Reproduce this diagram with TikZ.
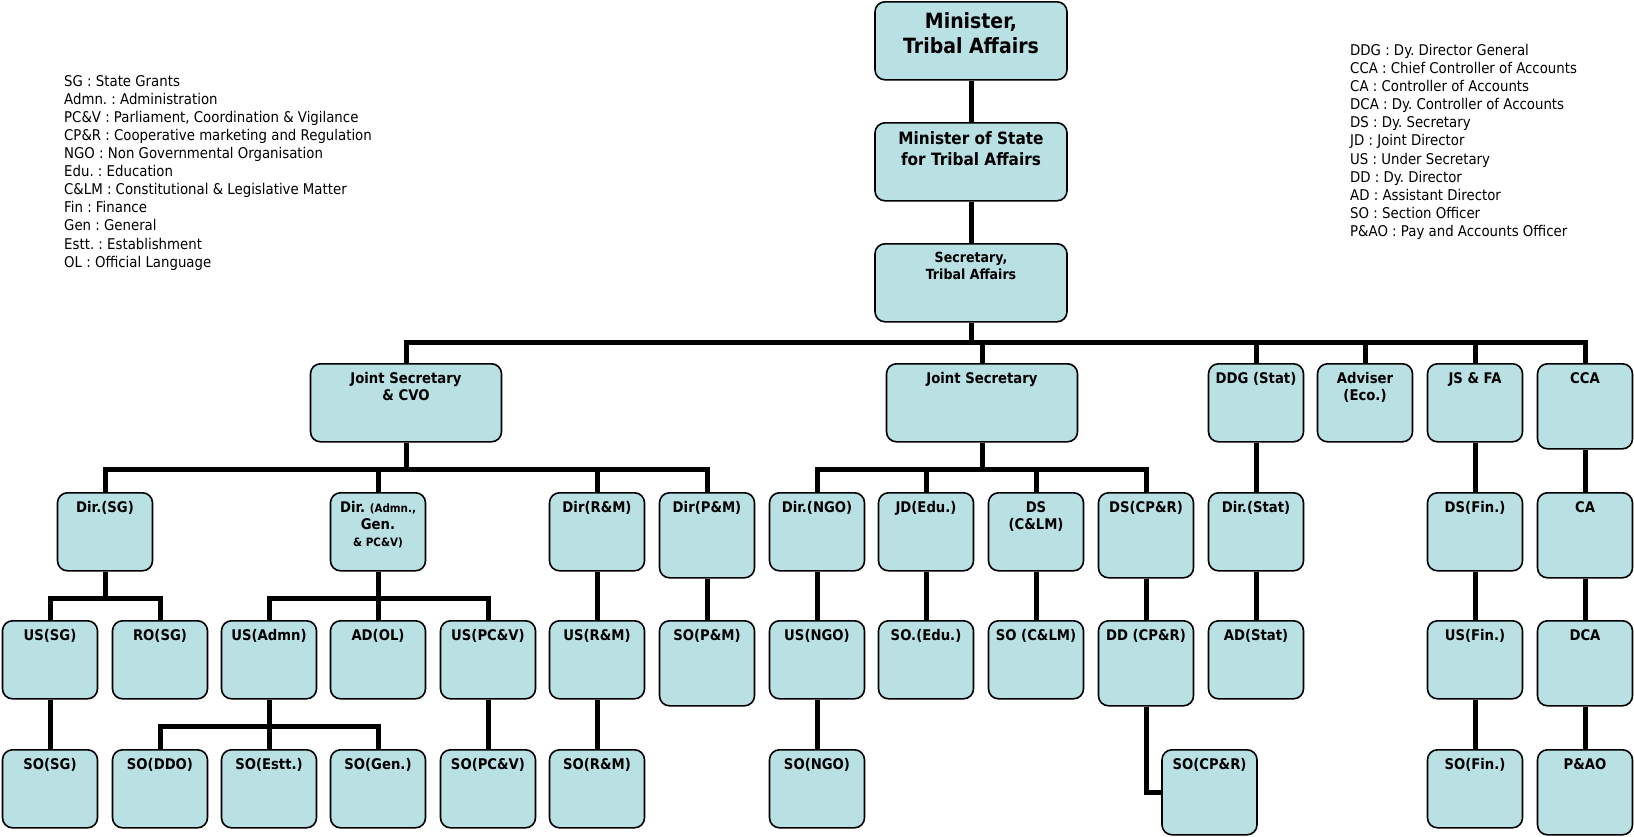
\documentclass[tikz,border=0pt]{standalone}
\usepackage{fontspec}
\setmainfont{DejaVu Sans}[FakeStretch=0.9]
\usepackage{tikz}
\usetikzlibrary{positioning}
\definecolor{boxcolor}{RGB}{185, 224, 227}
\newcommand{\subtxt}{\fontsize{11.5}{14}\selectfont}
\frenchspacing
\tikzset{
    post/.style={rectangle, rounded corners=10pt, draw=black, line width=1.6pt, fill=boxcolor, minimum width=95pt, minimum height=78pt, inner sep=0pt, anchor=north},
    tall post/.style={post, minimum height=85pt},
    wide post/.style={post, minimum width=191pt},
    post title/.style={align=center, inner sep=0pt, font=\bfseries\fontsize{14.7}{17.5}\selectfont},
    link/.style={line width=5pt, black},
    legend/.style={anchor=north west, align=left, inner sep=0pt, font=\fontsize{14.8}{18.1}\selectfont}
}

\begin{document}
\begin{tikzpicture}[x=1pt, y=-1pt]
    \useasboundingbox (0,0) rectangle (1634,836);

    % Abbreviations
    \node[legend] (abbrleft) at (64,75) {SG : State Grants\\ Admn. : Administration\\ PC\&V : Parliament, Coordination \& Vigilance\\ CP\&R : Cooperative marketing and Regulation\\ NGO : Non Governmental Organisation\\ Edu. : Education\\ C\&LM : Constitutional \& Legislative Matter\\ Fin : Finance\\ Gen : General\\ Estt. : Establishment\\ OL : Official Language};
    \node[legend] (abbrright) at (1350,44) {DDG : Dy. Director General\\ CCA : Chief Controller of Accounts\\ CA : Controller of Accounts\\ DCA : Dy. Controller of Accounts\\ DS : Dy. Secretary\\ JD : Joint Director\\ US : Under Secretary\\ DD : Dy. Director\\ AD : Assistant Director\\ SO : Section Officer\\ P\&AO : Pay and Accounts Officer};

    % Minister, MoS, Secretary
    \node[post, minimum width=192pt] (minister) at (971,1) {};
    \node[post title, font=\bfseries\fontsize{21}{25}\selectfont, below=11pt of minister.north] (minister-t) {Minister,\\ Tribal Affairs};
    \node[post, minimum width=192pt] (mos) at (971,122) {};
    \node[post title, font=\bfseries\fontsize{17}{21}\selectfont, below=9pt of mos.north] (mos-t) {Minister of State\\ for Tribal Affairs};
    \node[post, minimum width=192pt] (secy) at (971,243) {};
    \node[post title, font=\bfseries\fontsize{14}{17}\selectfont, below=9pt of secy.north] (secy-t) {Secretary,\\ Tribal Affairs};

    % First level
    \node[wide post] (jscvo) at (406,363) {};
    \node[post title, below=9pt of jscvo.north] (jscvo-t) {Joint Secretary\\ \& CVO};
    \node[wide post] (js) at (982,363) {};
    \node[post title, below=9pt of js.north] (js-t) {Joint Secretary};
    \node[post] (ddg) at (1256,363) {};
    \node[post title, below=9pt of ddg.north] (ddg-t) {DDG (Stat)};
    \node[post] (adviser) at (1365,363) {};
    \node[post title, below=9pt of adviser.north] (adviser-t) {Adviser\\ (Eco.)};
    \node[post] (jsfa) at (1475,363) {};
    \node[post title, below=9pt of jsfa.north] (jsfa-t) {JS \& FA};
    \node[tall post] (cca) at (1585,363) {};
    \node[post title, below=9pt of cca.north] (cca-t) {CCA};

    % Second level
    \node[post] (dirsg) at (105,492) {};
    \node[post title, below=9pt of dirsg.north] (dirsg-t) {Dir.(SG)};
    \node[post] (diradmn) at (378,492) {};
    \node[post title, below=9pt of diradmn.north] (diradmn-t) {Dir. {\subtxt(Admn.,}\\ Gen.\\[-1pt] {\subtxt\& PC\&V)}};
    \node[post] (dirrm) at (597,492) {};
    \node[post title, below=9pt of dirrm.north] (dirrm-t) {Dir(R\&M)};
    \node[tall post] (dirpm) at (707,492) {};
    \node[post title, below=9pt of dirpm.north] (dirpm-t) {Dir(P\&M)};
    \node[post] (dirngo) at (817,492) {};
    \node[post title, below=9pt of dirngo.north] (dirngo-t) {Dir.(NGO)};
    \node[post] (jdedu) at (926,492) {};
    \node[post title, below=9pt of jdedu.north] (jdedu-t) {JD(Edu.)};
    \node[post] (dsclm) at (1036,492) {};
    \node[post title, below=9pt of dsclm.north] (dsclm-t) {DS\\ (C\&LM)};
    \node[tall post] (dscpr) at (1146,492) {};
    \node[post title, below=9pt of dscpr.north] (dscpr-t) {DS(CP\&R)};
    \node[post] (dirstat) at (1256,492) {};
    \node[post title, below=9pt of dirstat.north] (dirstat-t) {Dir.(Stat)};
    \node[post] (dsfin) at (1475,492) {};
    \node[post title, below=9pt of dsfin.north] (dsfin-t) {DS(Fin.)};
    \node[tall post] (ca) at (1585,492) {};
    \node[post title, below=9pt of ca.north] (ca-t) {CA};

    % Third level
    \node[post] (ussg) at (50,620) {};
    \node[post title, below=9pt of ussg.north] (ussg-t) {US(SG)};
    \node[post] (rosg) at (160,620) {};
    \node[post title, below=9pt of rosg.north] (rosg-t) {RO(SG)};
    \node[post] (usadmn) at (269,620) {};
    \node[post title, below=9pt of usadmn.north] (usadmn-t) {US(Admn)};
    \node[post] (adol) at (378,620) {};
    \node[post title, below=9pt of adol.north] (adol-t) {AD(OL)};
    \node[post] (uspcv) at (488,620) {};
    \node[post title, below=9pt of uspcv.north] (uspcv-t) {US(PC\&V)};
    \node[post] (usrm) at (597,620) {};
    \node[post title, below=9pt of usrm.north] (usrm-t) {US(R\&M)};
    \node[tall post] (sopm) at (707,620) {};
    \node[post title, below=9pt of sopm.north] (sopm-t) {SO(P\&M)};
    \node[post] (usngo) at (817,620) {};
    \node[post title, below=9pt of usngo.north] (usngo-t) {US(NGO)};
    \node[post] (soedu) at (926,620) {};
    \node[post title, below=9pt of soedu.north] (soedu-t) {SO.(Edu.)};
    \node[post] (soclm) at (1036,620) {};
    \node[post title, below=9pt of soclm.north] (soclm-t) {SO (C\&LM)};
    \node[tall post] (ddcpr) at (1146,620) {};
    \node[post title, below=9pt of ddcpr.north] (ddcpr-t) {DD (CP\&R)};
    \node[post] (adstat) at (1256,620) {};
    \node[post title, below=9pt of adstat.north] (adstat-t) {AD(Stat)};
    \node[post] (usfin) at (1475,620) {};
    \node[post title, below=9pt of usfin.north] (usfin-t) {US(Fin.)};
    \node[tall post] (dca) at (1585,620) {};
    \node[post title, below=9pt of dca.north] (dca-t) {DCA};

    % Fourth level
    \node[post] (sosg) at (50,749) {};
    \node[post title, below=9pt of sosg.north] (sosg-t) {SO(SG)};
    \node[post] (soddo) at (160,749) {};
    \node[post title, below=9pt of soddo.north] (soddo-t) {SO(DDO)};
    \node[post] (soestt) at (269,749) {};
    \node[post title, below=9pt of soestt.north] (soestt-t) {SO(Estt.)};
    \node[post] (sogen) at (378,749) {};
    \node[post title, below=9pt of sogen.north] (sogen-t) {SO(Gen.)};
    \node[post] (sopcv) at (488,749) {};
    \node[post title, below=9pt of sopcv.north] (sopcv-t) {SO(PC\&V)};
    \node[post] (sorm) at (597,749) {};
    \node[post title, below=9pt of sorm.north] (sorm-t) {SO(R\&M)};
    \node[post] (songo) at (817,749) {};
    \node[post title, below=9pt of songo.north] (songo-t) {SO(NGO)};
    \node[tall post] (socpr) at (1209.5,749) {};
    \node[post title, below=9pt of socpr.north] (socpr-t) {SO(CP\&R)};
    \node[post] (sofin) at (1475,749) {};
    \node[post title, below=9pt of sofin.north] (sofin-t) {SO(Fin.)};
    \node[tall post] (pao) at (1585,749) {};
    \node[post title, below=9pt of pao.north] (pao-t) {P\&AO};

    % Bus points
    \coordinate (mainbus) at (971,342);
    \coordinate (cvobus) at (406,469);
    \coordinate (jsbus) at (982,469);
    \coordinate (sgbus) at (105,598);
    \coordinate (admnbus) at (378,598);
    \coordinate (usadmnbus) at (269,726);

    % Top chain
    \draw[link] (minister.south) -- (mos.north);
    \draw[link] (mos.south) -- (secy.north);
    \draw[link] (secy.south) -- (mainbus);
    \draw[link] (mainbus) -| (jscvo.north);
    \draw[link] (mainbus) -| (js.north);
    \draw[link] (mainbus) -| (ddg.north);
    \draw[link] (mainbus) -| (adviser.north);
    \draw[link] (mainbus) -| (jsfa.north);
    \draw[link] (mainbus) -| (cca.north);

    % Joint Secretary & CVO
    \draw[link] (jscvo.south) -- (cvobus);
    \draw[link] (cvobus) -| (dirsg.north);
    \draw[link] (cvobus) -| (diradmn.north);
    \draw[link] (cvobus) -| (dirrm.north);
    \draw[link] (cvobus) -| (dirpm.north);
    \draw[link] (dirsg.south) -- (sgbus);
    \draw[link] (sgbus) -| (ussg.north);
    \draw[link] (sgbus) -| (rosg.north);
    \draw[link] (ussg.south) -- (sosg.north);
    \draw[link] (diradmn.south) -- (admnbus);
    \draw[link] (admnbus) -| (usadmn.north);
    \draw[link] (admnbus) -- (adol.north);
    \draw[link] (admnbus) -| (uspcv.north);
    \draw[link] (usadmn.south) -- (usadmnbus);
    \draw[link] (usadmnbus) -| (soddo.north);
    \draw[link] (usadmnbus) -- (soestt.north);
    \draw[link] (usadmnbus) -| (sogen.north);
    \draw[link] (uspcv.south) -- (sopcv.north);
    \draw[link] (dirrm.south) -- (usrm.north);
    \draw[link] (usrm.south) -- (sorm.north);
    \draw[link] (dirpm.south) -- (sopm.north);

    % Joint Secretary
    \draw[link] (js.south) -- (jsbus);
    \draw[link] (jsbus) -| (dirngo.north);
    \draw[link] (jsbus) -| (jdedu.north);
    \draw[link] (jsbus) -| (dsclm.north);
    \draw[link] (jsbus) -| (dscpr.north);
    \draw[link] (dirngo.south) -- (usngo.north);
    \draw[link] (usngo.south) -- (songo.north);
    \draw[link] (jdedu.south) -- (soedu.north);
    \draw[link] (dsclm.south) -- (soclm.north);
    \draw[link] (dscpr.south) -- (ddcpr.north);
    \draw[link] (ddcpr.south) |- (socpr.west);

    % Right columns
    \draw[link] (ddg.south) -- (dirstat.north);
    \draw[link] (dirstat.south) -- (adstat.north);
    \draw[link] (jsfa.south) -- (dsfin.north);
    \draw[link] (dsfin.south) -- (usfin.north);
    \draw[link] (usfin.south) -- (sofin.north);
    \draw[link] (cca.south) -- (ca.north);
    \draw[link] (ca.south) -- (dca.north);
    \draw[link] (dca.south) -- (pao.north);
\end{tikzpicture}
\end{document}
